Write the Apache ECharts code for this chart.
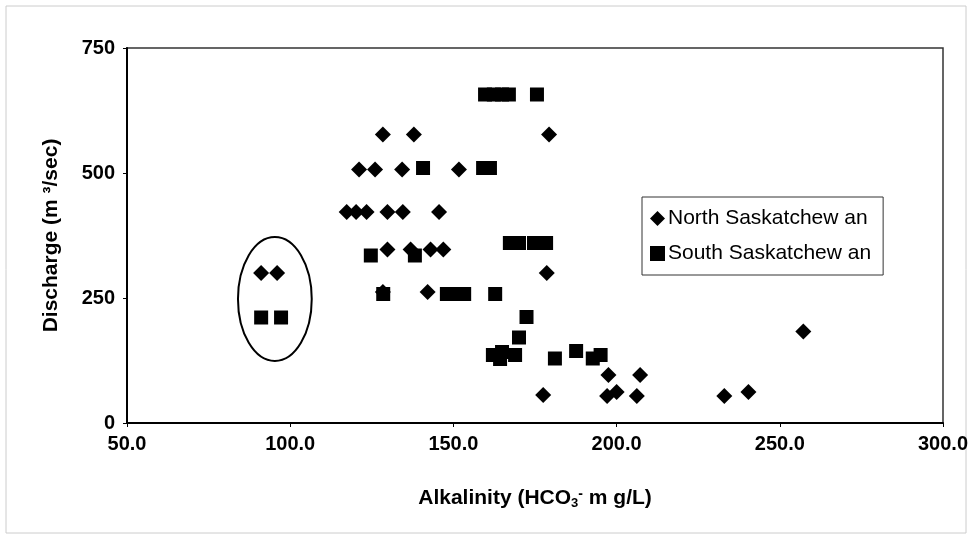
<!DOCTYPE html>
<html>
<head>
<meta charset="utf-8">
<script src="https://cdn.jsdelivr.net/npm/echarts@6/dist/echarts.min.js"></script>
<style>html,body{margin:0;padding:0;background:#fff}#c{width:972px;height:539px}</style>
</head>
<body>
<div id="c"></div>
<script>
const xTicks = [50, 100, 150, 200, 250, 300];
const yTicks = [0, 250, 500, 750];
const seriesNames = ['North Saskatchew an', 'South Saskatchew an'];
const northX = [91.1, 96.0, 128.4, 137.9, 179.3, 121.1, 126.0, 134.3, 151.7, 117.3, 120.2, 123.4, 129.8, 134.5, 145.6, 129.8, 136.9, 143.0, 146.9, 128.4, 142.1, 178.6, 177.5, 197.5, 207.2, 197.1, 200.0, 206.2, 233.0, 240.4, 257.2];
const northY = [300, 300, 577, 577, 577, 507, 507, 507, 507, 422, 422, 422, 422, 422, 422, 347, 347, 347, 347, 262, 262, 300, 56, 96, 96, 54, 62, 54, 54, 62, 183];
const southX = [91.1, 97.2, 159.7, 162.4, 164.9, 167.0, 175.6, 140.7, 159.1, 161.2, 167.3, 170.1, 174.7, 178.4, 124.7, 138.2, 128.5, 148.0, 150.8, 153.3, 162.8, 172.4, 170.1, 162.1, 164.9, 164.3, 168.9, 181.1, 187.6, 192.7, 195.1];
const southY = [211, 211, 657, 657, 657, 657, 657, 510, 510, 510, 360, 360, 360, 360, 335, 335, 258, 258, 258, 258, 258, 212, 171, 136, 142, 128, 136, 129, 144, 129, 136];
// annotation ellipse in data units: center x, center y, half-width (x units), half-height (y units)
const circleNote = [95.3, 248, 11.3, 124];

const F = '"Liberation Sans", Arial, sans-serif';
const chart = echarts.init(document.getElementById('c'), null, {renderer: 'canvas'});
const zip = (a, b) => a.map((v, i) => [v, b[i]]);

chart.setOption({
  animation: false,
  backgroundColor: '#fff',
  grid: {left: 127, right: 29, top: 48, bottom: 116, show: true, borderColor: '#333', borderWidth: 1.5, backgroundColor: 'transparent'},
  xAxis: {
    type: 'value', min: xTicks[0], max: xTicks[xTicks.length - 1], interval: 50,
    axisLine: {show: true, lineStyle: {color: '#000', width: 2}},
    axisTick: {show: true, length: 4, lineStyle: {color: '#000'}},
    splitLine: {show: false},
    axisLabel: {formatter: v => v.toFixed(1), color: '#000', fontFamily: F, fontWeight: 'bold', fontSize: 20, margin: 11},
    name: '{a|Alkalinity (HCO}{s|3}{p|-}{a| m g/L)}',
    nameLocation: 'middle', nameGap: 64,
    nameTextStyle: {rich: {
      a: {fontFamily: F, fontWeight: 'bold', fontSize: 21, color: '#000'},
      s: {fontFamily: F, fontWeight: 'bold', fontSize: 13, color: '#000', verticalAlign: 'bottom', padding: [10, 0, 0, 0]},
      p: {fontFamily: F, fontWeight: 'bold', fontSize: 14, color: '#000', verticalAlign: 'top', padding: [0, 0, 8, 0]}
    }}
  },
  yAxis: {
    type: 'value', min: yTicks[0], max: yTicks[yTicks.length - 1], interval: 250,
    axisLine: {show: true, lineStyle: {color: '#000', width: 2}},
    axisTick: {show: true, length: 4, lineStyle: {color: '#000'}},
    splitLine: {show: false},
    axisLabel: {color: '#000', fontFamily: F, fontWeight: 'bold', fontSize: 20, margin: 12},
    name: 'Discharge (m ³/sec)',
    nameLocation: 'middle', nameGap: 65,
    nameTextStyle: {fontFamily: F, fontWeight: 'bold', fontSize: 21, color: '#000'}
  },
  legend: {
    orient: 'vertical', left: 642, top: 197, width: 243,
    padding: [11, 12, 11, 8], itemGap: 14,
    borderColor: '#333', borderWidth: 1, backgroundColor: '#fff',
    itemWidth: 15, itemHeight: 15,
    textStyle: {fontFamily: F, fontSize: 21, color: '#000', padding: [0, 0, 0, -2]},
    data: [{name: seriesNames[0], icon: 'diamond'}, {name: seriesNames[1], icon: 'rect'}]
  },
  series: [
    {name: seriesNames[0], type: 'scatter', symbol: 'diamond', symbolSize: 16, itemStyle: {color: '#000', opacity: 1}, data: zip(northX, northY), z: 3},
    {name: seriesNames[1], type: 'scatter', symbol: 'rect', symbolSize: 14, itemStyle: {color: '#000', opacity: 1}, data: zip(southX, southY), z: 4}
  ]
});

const c0 = chart.convertToPixel({gridIndex: 0}, [circleNote[0], circleNote[1]]);
const c1 = chart.convertToPixel({gridIndex: 0}, [circleNote[0] + circleNote[2], circleNote[1] + circleNote[3]]);
chart.setOption({
  graphic: [
    {type: 'ellipse', shape: {cx: c0[0], cy: c0[1], rx: Math.abs(c1[0] - c0[0]), ry: Math.abs(c0[1] - c1[1])},
     style: {fill: 'none', stroke: '#000', lineWidth: 2}, z: 10},
    {type: 'rect', shape: {x: 6, y: 6, width: 960, height: 527}, style: {fill: 'none', stroke: '#ccc', lineWidth: 1}, z: -1}
  ]
});
</script>
</body>
</html>
